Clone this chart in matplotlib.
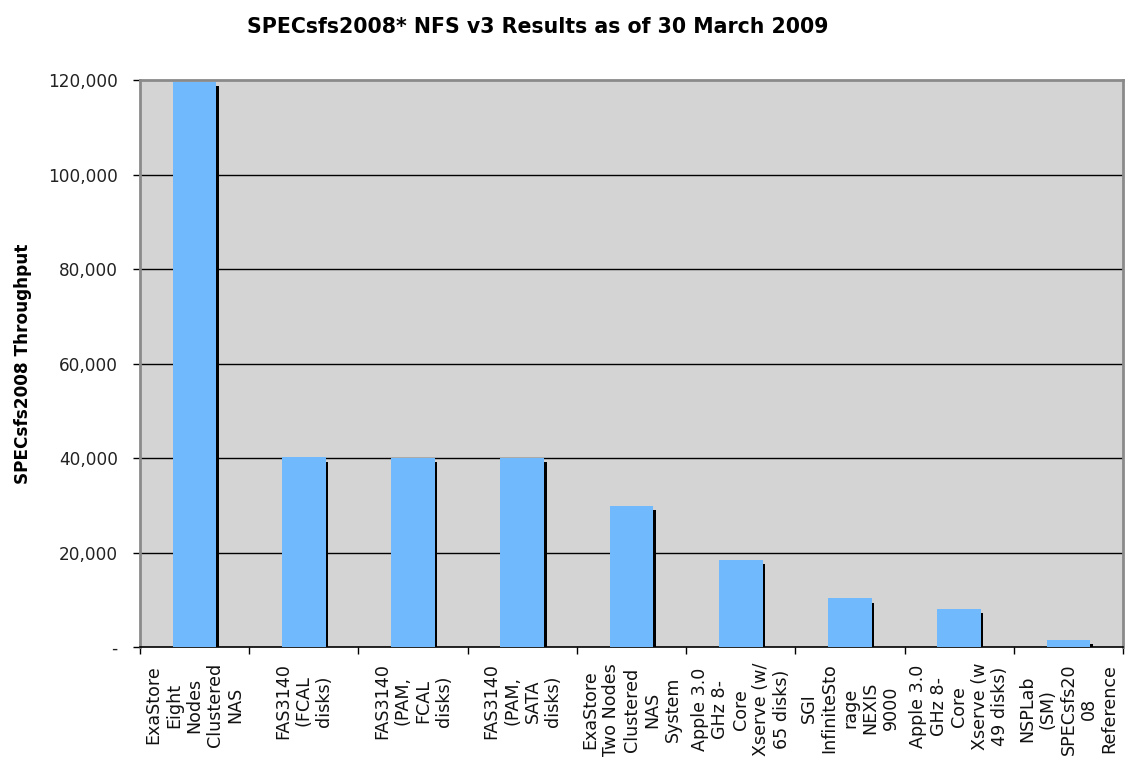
import numpy as np
import matplotlib
matplotlib.use("Agg")
import matplotlib.pyplot as plt
from matplotlib.ticker import FuncFormatter

systems = [
    "ExaStore\nEight\nNodes\nClustered\nNAS",
    "FAS3140\n(FCAL\ndisks)",
    "FAS3140\n(PAM,\nFCAL\ndisks)",
    "FAS3140\n(PAM,\nSATA\ndisks)",
    "ExaStore\nTwo Nodes\nClustered\nNAS\nSystem",
    "Apple 3.0\nGHz 8-\nCore\nXserve (w/\n65 disks)",
    "SGI\nInfiniteSto\nrage\nNEXIS\n9000",
    "Apple 3.0\nGHz 8-\nCore\nXserve (w\n49 disks)",
    "NSPLab\n(SM)\nSPECsfs20\n08\nReference",
]
throughput = [119550, 40109, 40107, 40011, 29921, 18511, 10305, 8053, 1470]
yticks = [0, 20000, 40000, 60000, 80000, 100000, 120000]

fig = plt.figure(figsize=(11.29, 7.57), dpi=100)
ax = fig.add_axes([0.124, 0.1453, 0.8707, 0.749])
ax.set_facecolor("#d4d4d4")

x = np.arange(len(throughput))
vals = np.array(throughput)
w = 0.4

# gridlines
for t in yticks[1:-1]:
    ax.axhline(t, color="black", lw=1.0, zorder=1)

# drop shadow at right edge of each bar
ax.bar(x + w / 2 + 0.008, vals - 900, width=0.028, color="black", zorder=2)
ax.bar(x, vals, width=w, color="#6fb9fc", zorder=3)

ax.set_xlim(-0.5, len(throughput) - 0.5)
ax.set_ylim(0, 120000)

ax.set_yticks(yticks)
ax.yaxis.set_major_formatter(FuncFormatter(lambda v, p: "-" if v == 0 else f"{int(v):,}"))
ax.tick_params(axis="y", length=5, width=1, color="black", labelsize=12.2, pad=11, labelcolor="#222222")

ax.set_xticks(np.arange(len(throughput) + 1) - 0.5)
ax.set_xticklabels([])
ax.tick_params(axis="x", length=5, width=1, color="black", direction="out")

for s in ["left", "top", "right"]:
    ax.spines[s].set_color("#8a8a8a")
    ax.spines[s].set_linewidth(2)
ax.spines["bottom"].set_color("black")
ax.spines["bottom"].set_linewidth(1.2)

trans = ax.get_xaxis_transform()
for xi, lab in zip(x, systems):
    ax.text(xi, -0.028, lab, transform=trans, rotation=90, ha="center", va="top",
            multialignment="center", fontsize=12.6, linespacing=1.18, color="#111111")

ax.set_ylabel("SPECsfs2008 Throughput", fontsize=12.2, fontweight="bold")
ax.yaxis.set_label_coords(-0.11, 0.5)

fig.text(0.4766, 0.978, "SPECsfs2008* NFS v3 Results as of 30 March 2009",
         ha="center", va="top", fontsize=14.8, fontweight="bold")

fig.savefig("out.png", dpi=100)
